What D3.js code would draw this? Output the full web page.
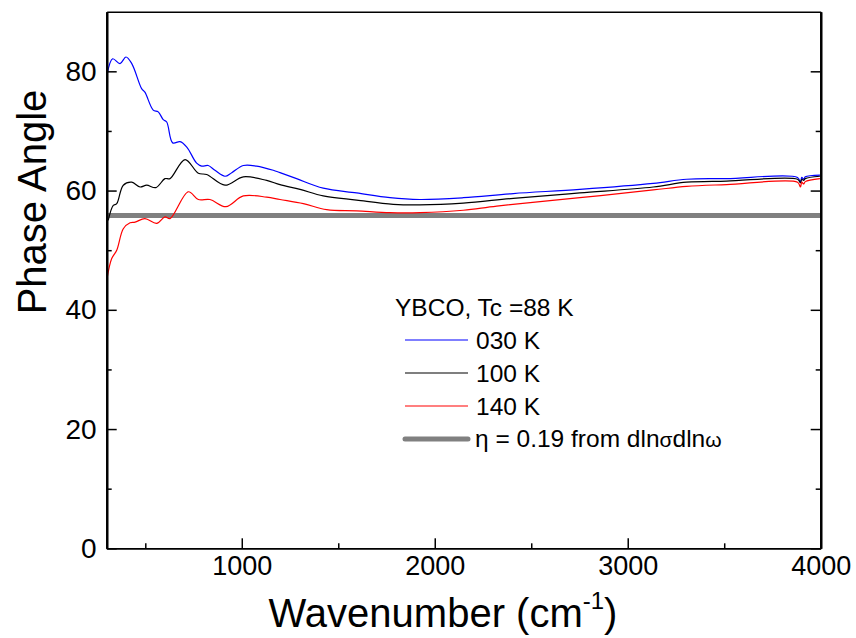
<!DOCTYPE html>
<html>
<head>
<meta charset="utf-8">
<script src="https://cdn.jsdelivr.net/npm/d3@7"></script>
<style>
  body { margin: 0; background: #fff; }
  text { font-family: "Liberation Sans", Arial, sans-serif; fill: #000; }
</style>
</head>
<body>
<div id="chart"></div>
<script>
// Phase angle of YBCO at three temperatures
const wn030 = [303, 331, 369, 400, 430, 481, 498, 541, 567, 593, 611, 642, 680, 715, 766, 792, 826, 861, 913, 948, 1008, 1077, 1163, 1198, 1284, 1422, 1595, 1768, 1923, 2148, 2407, 2752, 3132, 3305, 3512, 3880, 3895, 3902, 3912, 3920, 3996]
const ph030 = [79.6, 82.1, 81.3, 82.4, 81.3, 77.1, 76.5, 73.5, 73.2, 71.9, 71.5, 68.0, 68.2, 67.3, 64.6, 64.1, 64.2, 63.4, 62.4, 63.0, 64.2, 64.1, 63.4, 63.0, 62.0, 60.4, 59.6, 58.8, 58.5, 58.8, 59.5, 60.2, 61.2, 61.9, 62.0, 62.2, 61.4, 62.2, 61.9, 62.3, 62.6]

const wn100 = [308, 334, 352, 386, 430, 473, 507, 555, 602, 628, 706, 775, 818, 913, 1008, 1129, 1198, 1302, 1422, 1595, 1785, 1923, 2148, 2407, 2752, 3132, 3305, 3512, 3880, 3895, 3902, 3912, 3920, 3996]
const ph100 = [55.0, 57.5, 57.8, 60.9, 61.4, 60.6, 60.9, 60.5, 62.0, 62.0, 65.2, 62.9, 62.7, 60.9, 62.3, 61.7, 61.0, 60.2, 59.1, 58.4, 57.7, 57.6, 57.9, 58.7, 59.6, 60.6, 61.4, 61.6, 61.9, 61.3, 61.9, 61.7, 62.0, 62.4]

const wn140 = [303, 326, 352, 386, 421, 447, 498, 559, 602, 628, 723, 775, 835, 918, 1008, 1129, 1198, 1319, 1440, 1595, 1768, 1923, 2148, 2321, 2752, 3132, 3305, 3512, 3880, 3895, 3902, 3912, 3920, 3996]
const ph140 = [45.5, 48.6, 50.0, 53.6, 54.6, 54.7, 55.3, 54.5, 55.6, 55.3, 59.8, 58.5, 58.5, 57.3, 59.1, 58.9, 58.5, 57.8, 56.8, 56.6, 56.3, 56.3, 56.7, 57.4, 58.8, 60.1, 60.7, 61.0, 61.4, 60.6, 61.4, 61.1, 61.5, 62.0]

const etaLevel = 55.8

const seriesNames = ['030 K', '100 K', '140 K']
const seriesColors = ['#0000ff', '#000000', '#ff0000']
const legendTitle = 'YBCO, Tc =88 K'

const xMajor = [1000, 2000, 3000, 4000]
const xMinor = [500, 1500, 2500, 3500]
const yMajor = [0, 20, 40, 60, 80]
const yMinor = [10, 30, 50, 70]

const width = 856
const height = 638
const plotL = 106.7, plotR = 820.7, plotT = 11.7, plotB = 548.3

const svg = d3.select('#chart')
    .append('svg')
    .attr('width', width)
    .attr('height', height)

const x = d3.scaleLinear().domain([300, 4000]).range([plotL, plotR])
const y = d3.scaleLinear().domain([0, 90]).range([plotB, plotT])

const series = [
    wn030.map((w, i) => ({w, p: ph030[i]})),
    wn100.map((w, i) => ({w, p: ph100[i]})),
    wn140.map((w, i) => ({w, p: ph140[i]}))
]

const line = d3.line()
    .x(d => x(d.w))
    .y(d => y(d.p))
    .curve(d3.curveCatmullRom.alpha(0.5))

// eta reference line
svg.append('line')
    .attr('x1', plotL).attr('x2', plotR)
    .attr('y1', y(etaLevel)).attr('y2', y(etaLevel))
    .attr('stroke', '#808080')
    .attr('stroke-width', 5)

svg.selectAll('path.curve')
    .data(series)
    .enter()
    .append('path')
    .attr('class', 'curve')
    .attr('d', line)
    .attr('fill', 'none')
    .attr('stroke', (d, i) => seriesColors[i])
    .attr('stroke-width', 1.2)

// Axes, ticks inward
function styleAxis(g, w) {
    g.select('.domain').attr('stroke-width', w)
    g.selectAll('.tick line').attr('stroke-width', 1.5)
    g.selectAll('.tick text').style('font-family', '"Liberation Sans", Arial, sans-serif')
}

svg.append('g')
    .attr('transform', `translate(0, ${plotB})`)
    .call(d3.axisBottom(x).tickValues(xMinor).tickSize(-5).tickSizeOuter(0).tickFormat(''))
    .call(g => styleAxis(g, 1.5))
svg.append('g')
    .attr('transform', `translate(0, ${plotB})`)
    .call(d3.axisBottom(x).tickValues(xMajor).tickSize(-10).tickSizeOuter(0).tickPadding(8).tickFormat(d3.format('d')))
    .call(g => styleAxis(g, 1.5))
    .selectAll('.tick text').attr('font-size', 27)

svg.append('g')
    .attr('transform', `translate(${plotL}, 0)`)
    .call(d3.axisLeft(y).tickValues(yMinor).tickSize(-5).tickSizeOuter(0).tickFormat(''))
    .call(g => styleAxis(g, 2.2))
svg.append('g')
    .attr('transform', `translate(${plotL}, 0)`)
    .call(d3.axisLeft(y).tickValues(yMajor).tickSize(-10).tickSizeOuter(0).tickPadding(10))
    .call(g => styleAxis(g, 2.2))
    .selectAll('.tick text').attr('font-size', 28)

svg.append('g')
    .attr('transform', `translate(${plotR}, 0)`)
    .call(d3.axisRight(y).tickValues(yMinor).tickSize(-5).tickSizeOuter(0).tickFormat(''))
    .call(g => styleAxis(g, 2.2))
svg.append('g')
    .attr('transform', `translate(${plotR}, 0)`)
    .call(d3.axisRight(y).tickValues(yMajor).tickSize(-10).tickSizeOuter(0).tickFormat(''))
    .call(g => styleAxis(g, 2.2))

svg.append('g')
    .attr('transform', `translate(0, ${plotT})`)
    .call(d3.axisTop(x).tickValues([]).tickSizeOuter(0))
    .call(g => styleAxis(g, 1.5))

// Axis titles
svg.append('text')
    .attr('transform', 'translate(46, 202) rotate(-90)')
    .attr('text-anchor', 'middle')
    .attr('font-size', 40)
    .text('Phase Angle')

const xt = svg.append('text')
    .attr('x', 443)
    .attr('y', 627)
    .attr('text-anchor', 'middle')
    .attr('font-size', 40)
xt.append('tspan').text('Wavenumber (cm')
xt.append('tspan').attr('font-size', 24).attr('dy', -18).text('-1')
xt.append('tspan').attr('dy', 18).text(')')

// Legend
const lg = svg.append('g').attr('transform', 'translate(395, 0)')
lg.append('text').attr('x', 0).attr('y', 316).attr('font-size', 24.5).text(legendTitle)
seriesNames.forEach((name, i) => {
    const ly = 340 + i * 33
    lg.append('line')
        .attr('x1', 10).attr('x2', 73)
        .attr('y1', ly).attr('y2', ly)
        .attr('stroke', seriesColors[i])
        .attr('stroke-width', 1.2)
    lg.append('text').attr('x', 81).attr('y', ly + 9).attr('font-size', 24.5).text(name)
})
lg.append('line')
    .attr('x1', 10).attr('x2', 73)
    .attr('y1', 439).attr('y2', 439)
    .attr('stroke', '#808080')
    .attr('stroke-width', 5)
    .attr('stroke-linecap', 'round')
const eta = lg.append('text').attr('x', 80).attr('y', 447).attr('font-size', 24.5)
eta.append('tspan').text('η')
eta.append('tspan').text(' = 0.19 from dln')
eta.append('tspan').attr('font-size', 21).text('σ')
eta.append('tspan').text('dln')
eta.append('tspan').attr('font-size', 21).text('ω')
</script>
</body>
</html>
